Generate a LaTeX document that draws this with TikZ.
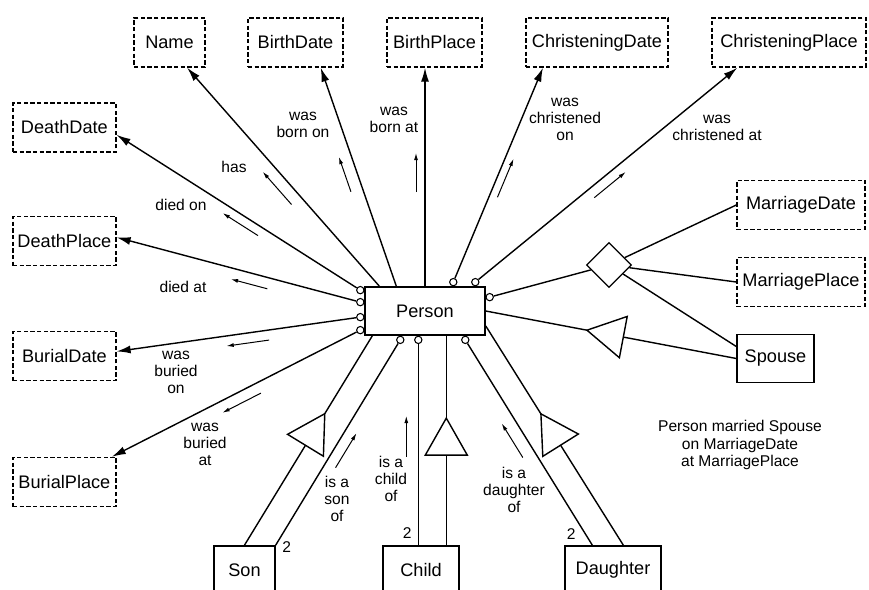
\documentclass[tikz,border=0pt]{standalone}
\usepackage{fontspec}
\setmainfont{Liberation Sans}
\usetikzlibrary{arrows.meta,shapes.geometric,calc}

\newcommand{\isa}[3]{%
\coordinate (bm) at ($(#1)!#3!(#2)$);
\coordinate (ap) at ($(bm)!1.11cm!(#2)$);
\draw[link] (#1) -- (bm);
\draw[link] ($(bm)!0.63cm!90:(ap)$) -- (ap) -- ($(bm)!0.63cm!-90:(ap)$) -- cycle;
\draw[link] (ap) -- (#2);
}

\begin{document}
\begin{tikzpicture}[x=0.03cm,y=-0.03cm,
  attr/.style={draw,line width=1.2pt,dash pattern=on 0.13cm off 0.07cm,minimum height=1.47cm,inner sep=0pt,font=\fontsize{15.5}{18}\selectfont},
  ent/.style={draw,line width=1.2pt,minimum height=1.45cm,inner sep=0pt,font=\fontsize{15.5}{18}\selectfont},
  lab/.style={align=center,inner sep=0pt,font=\fontsize{13.3}{14.6}\selectfont},
  ring/.style={circle,draw,fill=white,line width=0.9pt,minimum size=0.22cm,inner sep=0pt},
  link/.style={line width=1.2pt},
  rel/.style={line width=1.2pt,-{Latex[length=0.42cm,width=0.24cm]}},
  flow/.style={line width=0.85pt,-{Latex[length=0.22cm,width=0.12cm]}}]
\clip (0,0) rectangle (869,590);

\node[attr,minimum width=2.13cm] (Name) at (169.5,42.5) {Name};
\node[attr,minimum width=2.85cm] (BirthDate) at (295.5,42.5) {BirthDate};
\node[attr,minimum width=2.85cm] (BirthPlace) at (434.5,42.5) {BirthPlace};
\node[attr,minimum width=4.26cm] (ChristeningDate) at (597,42.5) {ChristeningDate};
\node[attr,minimum width=4.62cm] (ChristeningPlace) at (789,42.5) {ChristeningPlace};
\node[attr,minimum width=3.09cm] (DeathDate) at (64.4,127.5) {DeathDate};
\node[attr,minimum width=3.09cm] (DeathPlace) at (64.4,241) {DeathPlace};
\node[attr,minimum width=3.09cm] (BurialDate) at (64.4,356) {BurialDate};
\node[attr,minimum width=3.09cm] (BurialPlace) at (64.4,482) {BurialPlace};
\node[attr,minimum width=3.84cm] (MarriageDate) at (801,205) {MarriageDate};
\node[attr,minimum width=3.84cm] (MarriagePlace) at (801,282) {MarriagePlace};

\node[ent,minimum width=3.6cm] (Person) at (425,311) {Person};
\node[ent,minimum width=2.31cm] (Spouse) at (775.5,358.5) {Spouse};
\node[ent,minimum width=1.83cm] (Son) at (244.5,570) {Son};
\node[ent,minimum width=2.28cm] (Child) at (421,570) {Child};
\node[ent,minimum width=2.88cm] (Daughter) at (613,570) {Daughter};
\node[diamond,draw,line width=1.1pt,minimum size=1.35cm,inner sep=0pt] (wed) at (609,265) {};

\coordinate (pName) at ($(Person.north west)+(15,0)$);
\coordinate (pBD) at ($(Person.north west)+(32,0)$);
\coordinate (tBP) at (Person.north |- BirthPlace.south);
\coordinate (pSon) at ($(Person.south west)+(8,0)$);
\coordinate (pChild) at ($(Person.south west)+(82,0)$);
\coordinate (pDau) at ($(Person.south east)+(0,-10)$);

\foreach \n/\x/\y in {cDD/-4/4, cDP/-4/16, cBD/-4/31, cBP/-4/44, cCD/89/-4, cCP/111/-4}
  \node[ring] (\n) at ($(Person.north west)+(\x,\y)$) {};
\foreach \n/\x in {cSon/36, cChild/54, cDau/101}
  \node[ring] (\n) at ($(Person.south west)+(\x,4)$) {};
\node[ring] (cMar) at ($(Person.north east)+(4,11)$) {};

\coordinate (dC) at (cChild |- Child.north);
\coordinate (gC) at (pChild |- Child.north);
\coordinate (dD) at ($(Daughter.north west)+(28,0)$);
\coordinate (gD) at ($(Daughter.north west)+(59,0)$);

\draw[rel] (pName) -- (Name.-55);
\draw[rel] (pBD) -- (BirthDate.-45);
\draw[rel] (Person.north) -- (tBP);
\foreach \c/\t in {cCD/ChristeningDate.-155, cCP/ChristeningPlace.-154, cDD/DeathDate.-8, cDP/DeathPlace.4, cBD/BurialDate.5, cBP/BurialPlace.28}
  \draw[rel] (\c) -- (\t);

\draw[link] (Son.north east) -- (cSon);
\draw[link] (dC) -- (cChild);
\draw[link] (dD) -- (cDau);

\draw[link] (cMar) -- (wed);
\draw[link] (wed) -- (MarriageDate.west);
\draw[link] (wed) -- (MarriagePlace.west);
\draw[link] (wed) -- (Spouse.163);

\isa{Son.north}{pSon}{3.51cm}
\isa{gC}{pChild}{2.7cm}
\isa{gD}{pDau}{3.54cm}
\isa{Spouse.west}{Person.east}{3.45cm}

\foreach \a/\b/\s/\e/\d in {pName/Name.-55/0.41/0.56/0.36cm, pBD/BirthDate.-45/0.45/0.61/0.36cm, Person.north/tBP/0.43/0.61/0.27cm, cCD/ChristeningDate.-155/0.41/0.59/-0.24cm, cCP/ChristeningPlace.-154/0.43/0.55/-0.3cm, cDD/DeathDate.-8/0.40/0.545/0.27cm, cDP/DeathPlace.4/0.37/0.52/0.33cm, cBD/BurialDate.5/0.38/0.555/0.3cm, cBP/BurialPlace.28/0.42/0.575/0.33cm, Son.north east/cSon/0.405/0.573/-0.33cm, dC/cChild/0.43/0.63/0.36cm, dD/cDau/0.46/0.626/0.39cm}
  \draw[flow] ($(\a)!\s!(\b)!\d!90:(\b)$) -- ($(\a)!\e!(\b)!\d!90:(\b)$);

\node[lab] (lHas) at (234,167) {has};
\node[lab] (lBornOn) at (303,125) {was\\born on};
\node[lab] (lBornAt) at (394,120) {was\\born at};
\node[lab] (lChrOn) at (565,119) {was\\christened\\on};
\node[lab] (lChrAt) at (717,128) {was\\christened at};
\node[lab] (lDiedOn) at (181,205) {died on};
\node[lab] (lDiedAt) at (183,287) {died at};
\node[lab] (lBurOn) at (176,372) {was\\buried\\on};
\node[lab] (lBurAt) at (205,444) {was\\buried\\at};
\node[lab] (lSon) at (337,499) {is a\\son\\of};
\node[lab] (lChild) at (391,479) {is a\\child\\of};
\node[lab] (lDau) at (514,490) {is a\\daughter\\of};
\node[lab] (lWed) at (740,445) {Person married Spouse\\on MarriageDate\\at MarriagePlace};

\node[lab] (n2son) at ($(Son.north east)+(11,2)$) {2};
\node[lab] (n2child) at ($(dC)+(-11,-12)$) {2};
\node[lab] (n2dau) at ($(dD)+(-21,-11)$) {2};
\end{tikzpicture}
\end{document}
